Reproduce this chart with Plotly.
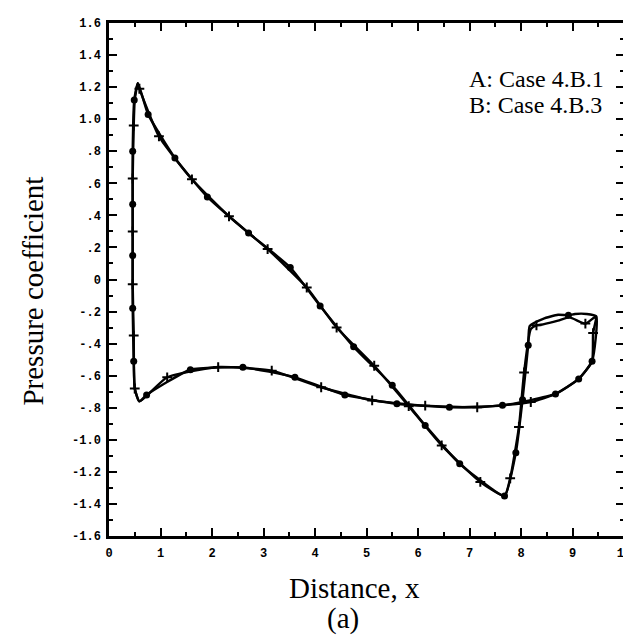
import plotly.graph_objects as go

# ---- Case 4.B.1 (A): closed pressure distribution, samples shown as dots ----
A_X = [0.59, 0.50, 0.48, 0.46, 0.46, 0.46, 0.46, 0.49, 0.56, 0.76, 1.28, 1.91, 2.71, 3.52,
       4.10, 4.75, 5.50, 6.14, 6.81, 7.45, 7.68, 7.90, 8.03, 8.14, 8.17, 8.43, 8.72, 8.92,
       9.05, 9.27, 9.46, 9.38, 9.12, 8.67, 7.64, 6.61, 5.59, 4.58, 3.61, 2.60, 1.58, 0.73, 0.59]
A_CP = [-0.76, -0.68, -0.51, -0.18, 0.15, 0.47, 0.80, 1.12, 1.225, 1.03, 0.758, 0.515, 0.29, 0.075,
        -0.165, -0.42, -0.66, -0.91, -1.15, -1.31, -1.35, -1.08, -0.75, -0.41, -0.29, -0.245, -0.22, -0.223,
        -0.215, -0.215, -0.23, -0.51, -0.62, -0.714, -0.785, -0.797, -0.775, -0.72, -0.61, -0.548, -0.563, -0.72, -0.76]
A_SAMPLE = [0, 0, 1, 1, 1, 1, 1, 1, 0, 1, 1, 1, 1, 1,
            1, 1, 1, 1, 1, 0, 1, 1, 1, 1, 0, 0, 0, 1,
            0, 0, 0, 1, 1, 1, 1, 1, 1, 1, 1, 1, 1, 1, 0]

# ---- Case 4.B.3 (B): samples shown as crosses ----
B_X = [0.59, 0.50, 0.48, 0.46, 0.46, 0.46, 0.48, 0.50, 0.56, 0.59, 0.97, 1.61, 2.33, 3.08,
       3.84, 4.42, 5.15, 5.82, 6.46, 7.21, 7.68, 7.79, 7.96, 8.06, 8.19, 8.30, 8.43, 8.72,
       8.94, 9.25, 9.46, 9.40, 9.38, 9.12, 8.67, 8.19, 7.15, 6.14, 5.11, 4.12, 3.16, 2.12, 1.13, 0.59]
B_CP = [-0.76, -0.68, -0.35, -0.03, 0.30, 0.63, 0.96, 1.12, 1.225, 1.19, 0.893, 0.625, 0.394, 0.19,
        -0.05, -0.30, -0.538, -0.79, -1.035, -1.263, -1.35, -1.24, -0.92, -0.58, -0.31, -0.286, -0.28, -0.257,
        -0.236, -0.275, -0.23, -0.334, -0.51, -0.62, -0.714, -0.764, -0.797, -0.787, -0.754, -0.672, -0.569, -0.546, -0.61, -0.76]
B_SAMPLE = [0, 1, 1, 1, 1, 1, 1, 0, 0, 1, 1, 1, 1, 1,
            1, 1, 1, 1, 1, 1, 0, 1, 1, 1, 0, 1, 0, 0,
            0, 1, 0, 1, 0, 0, 0, 1, 1, 1, 1, 1, 1, 1, 1, 0]

X_TICKS = [0, 1, 2, 3, 4, 5, 6, 7, 8, 9, 10]
X_LABELS = ["0", "1", "2", "3", "4", "5", "6", "7", "8", "9", "10"]
Y_TICKS = [1.6, 1.4, 1.2, 1.0, 0.8, 0.6, 0.4, 0.2, 0.0, -0.2, -0.4, -0.6, -0.8, -1.0, -1.2, -1.4, -1.6]
Y_LABELS = ["1.6", "1.4", "1.2", "1.0", ".8", ".6", ".4", ".2", "0", "-.2", "-.4", "-.6", "-.8",
            "-1.0", "-1.2", "-1.4", "-1.6"]
LEGEND_LINES = ["A: Case 4.B.1", "B: Case 4.B.3"]

fig = go.Figure()

cases = [
    (A_X, A_CP, A_SAMPLE, dict(symbol="circle", size=7, color="black")),
    (B_X, B_CP, B_SAMPLE, dict(symbol="cross-thin-open", size=7, color="black",
                                line=dict(color="black", width=2))),
]
for xs, cps, smp, mk in cases:
    fig.add_trace(go.Scatter(x=xs, y=cps, mode="lines",
                             line=dict(color="black", width=2.4, shape="spline", smoothing=0.5),
                             hoverinfo="skip", showlegend=False))
    mx = [x for x, s in zip(xs, smp) if s]
    my = [c for c, s in zip(cps, smp) if s]
    fig.add_trace(go.Scatter(x=mx, y=my, mode="markers", marker=mk,
                             hoverinfo="skip", showlegend=False))

tickfont = dict(family="Liberation Mono", size=12, color="black", weight="bold")
common = dict(showline=True, linecolor="black", linewidth=2.5, mirror="allticks",
              ticks="inside", ticklen=8, tickwidth=1.6, tickcolor="black",
              showgrid=False, zeroline=False, tickfont=tickfont)

fig.update_xaxes(range=[0, 10], tickmode="array", tickvals=X_TICKS, ticktext=X_LABELS,
                 minor=dict(tickmode="linear", tick0=0, dtick=0.5, ticks="inside",
                            ticklen=4, tickwidth=1.6, tickcolor="black"),
                 ticklabelstandoff=4, **common)
fig.update_yaxes(range=[-1.6, 1.6], tickmode="array", tickvals=Y_TICKS, ticktext=Y_LABELS,
                 minor=dict(tickmode="linear", tick0=0, dtick=0.1, ticks="inside",
                            ticklen=4, tickwidth=1.6, tickcolor="black"),
                 ticklabelstandoff=3, **common)

serif = "Liberation Serif, Times New Roman, serif"
annos = [
    dict(text="Pressure coefficient", x=-0.148, y=0.478, textangle=-90, size=29),
    dict(text="Distance, x", x=0.477, y=-0.101, textangle=0, size=29),
    dict(text="(a)", x=0.454, y=-0.160, textangle=0, size=29),
]
for a in annos:
    fig.add_annotation(text=a["text"], x=a["x"], y=a["y"], xref="paper", yref="paper",
                       xanchor="center", yanchor="middle", textangle=a["textangle"],
                       showarrow=False, font=dict(family=serif, size=a["size"], color="black"))
for i, t in enumerate(LEGEND_LINES):
    fig.add_annotation(text=t, x=0.695, y=0.891 - i * 0.051, xref="paper", yref="paper",
                       xanchor="left", yanchor="middle", showarrow=False,
                       font=dict(family=serif, size=24, color="black"))

fig.update_layout(width=631, height=637, margin=dict(l=101, r=8, t=15, b=109),
                  paper_bgcolor="white", plot_bgcolor="white")
fig.write_html("out.html")
